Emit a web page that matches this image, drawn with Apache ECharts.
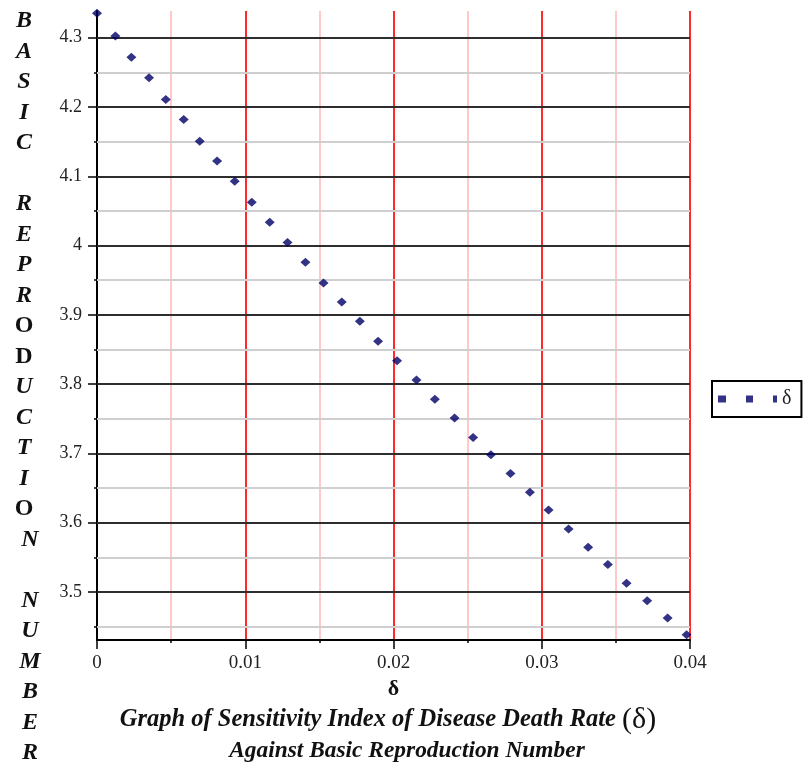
<!DOCTYPE html>
<html>
<head>
<meta charset="utf-8">
<script src="https://cdn.jsdelivr.net/npm/echarts@6/dist/echarts.min.js"></script>
<style>html,body{margin:0;padding:0;background:#fff;}#c{width:804px;height:768px;}</style>
</head>
<body>
<div id="c"></div>
<script>
// ---- data ----
const deltaValues = [0, 0.00124, 0.00232, 0.00351, 0.00464, 0.00585, 0.00693, 0.00810, 0.00929, 0.01044,
  0.01165, 0.01285, 0.01406, 0.01528, 0.01651, 0.01773, 0.01896, 0.02024, 0.02155, 0.02279,
  0.02412, 0.02537, 0.02657, 0.02789, 0.02920, 0.03046, 0.03181, 0.03313, 0.03446, 0.03572,
  0.03711, 0.03849, 0.03977];
const r0Values = [4.3353, 4.3025, 4.2717, 4.2422, 4.2110, 4.1821, 4.1507, 4.1222, 4.0929, 4.0626,
  4.0337, 4.0043, 3.9759, 3.9460, 3.9185, 3.8906, 3.8617, 3.8338, 3.8058, 3.7783,
  3.7509, 3.7230, 3.6980, 3.6710, 3.6439, 3.6182, 3.5910, 3.5645, 3.5395, 3.5124,
  3.4874, 3.4624, 3.4383];
const yMajorTicks = [3.5, 3.6, 3.7, 3.8, 3.9, 4, 4.1, 4.2, 4.3];
const yMinorTicks = [3.45, 3.55, 3.65, 3.75, 3.85, 3.95, 4.05, 4.15, 4.25];
const xMin = 0, xMax = 0.04, xInterval = 0.01;
const yMin = 3.4306, yMax = 4.3386;
const seriesName = 'δ';
const xAxisTitle = 'δ';
const yTitleLetters = ['B','A','S','I','C','','R','E','P','R','O','D','U','C','T','I','O','N','','N','U','M','B','E','R'];
const uprightLetters = {10:true, 11:true, 16:true};
const titleLine1 = 'Graph of Sensitivity Index of Disease Death Rate ';
const titleLine2 = 'Against Basic Reproduction Number';

const points = deltaValues.map((d, i) => [d, r0Values[i]]);

const serif = '"Liberation Serif", "DejaVu Serif", serif';

// vertical y-axis title letters
const letterGraphics = [];
yTitleLetters.forEach((ch, i) => {
  if (!ch) return;
  const shifted = i >= 17;
  letterGraphics.push({
    type: 'text',
    x: shifted ? 30 : 24,
    y: 21 + i * 30.5,
    style: {
      text: ch,
      font: (uprightLetters[i] ? 'bold ' : 'italic bold ') + '24px ' + serif,
      fill: '#111',
      textAlign: 'center',
      textVerticalAlign: 'middle'
    }
  });
});

const chart = echarts.init(document.getElementById('c'), null, {renderer: 'canvas'});
chart.setOption({
  animation: false,
  backgroundColor: '#fff',
  grid: {left: 97, right: 114, top: 11, bottom: 128, containLabel: false},
  legend: {
    show: true,
    left: 712, top: 381,
    orient: 'vertical',
    padding: [8, 10, 8, 6],
    borderColor: '#000', borderWidth: 2,
    backgroundColor: '#fff',
    itemWidth: 59, itemHeight: 7,
    textStyle: {fontFamily: serif, fontSize: 20, color: '#222'},
    data: [{name: seriesName, icon: 'path://M0,0H8V7H0Z M28,0H35V7H28Z M55,0H59V7H55Z'}]
  },
  xAxis: {
    type: 'value',
    min: xMin, max: xMax, interval: xInterval,
    name: xAxisTitle, nameLocation: 'middle', nameGap: 38,
    nameTextStyle: {fontFamily: serif, fontSize: 22, fontWeight: 'bold', color: '#111'},
    axisLine: {show: true, lineStyle: {color: '#000', width: 2}},
    axisTick: {show: true, length: 9, lineStyle: {color: '#000', width: 1.5}},
    minorTick: {show: true, splitNumber: 2, length: 3, lineStyle: {color: '#000', width: 1.5}},
    axisLabel: {fontFamily: serif, fontSize: 19, color: '#222', margin: 14},
    splitLine: {show: true, lineStyle: {color: '#ff2a2a', width: 2}},
    minorSplitLine: {show: true, lineStyle: {color: '#ffc9c9', width: 2}}
  },
  yAxis: [{
    type: 'value',
    min: yMin, max: yMax,
    axisLine: {show: true, lineStyle: {color: '#000', width: 2}},
    axisTick: {show: true, length: 9, customValues: yMajorTicks, lineStyle: {color: '#000', width: 1.5}},
    axisLabel: {fontFamily: serif, fontSize: 18, color: '#222', margin: 15, customValues: yMajorTicks},
    splitLine: {show: false}
  }, {
    type: 'value',
    position: 'left',
    min: yMin, max: yMax,
    axisLine: {show: false},
    axisTick: {show: true, length: 3, customValues: yMinorTicks, lineStyle: {color: '#000', width: 1.5}},
    axisLabel: {show: false, customValues: yMinorTicks},
    splitLine: {show: false}
  }],
  series: [{
    type: 'line',
    name: '__grid',
    data: [],
    z: 1,
    silent: true,
    markLine: {
      silent: true,
      symbol: ['none', 'none'],
      label: {show: false},
      animation: false,
      data: yMinorTicks.map(v => ({yAxis: v, lineStyle: {color: '#cfcfcf', width: 2, type: 'solid'}}))
        .concat(yMajorTicks.map(v => ({yAxis: v, lineStyle: {color: '#2e2e2e', width: 2, type: 'solid'}})))
    }
  }, {
    type: 'scatter',
    name: seriesName,
    data: points,
    z: 5,
    symbol: 'diamond',
    symbolSize: [10, 9],
    itemStyle: {color: '#000066'}
  }],
  graphic: letterGraphics.concat([
    {
      type: 'text',
      x: 388, y: 720,
      style: {
        text: '{a|' + titleLine1 + '}{b|(δ)}',
        textAlign: 'center', textVerticalAlign: 'middle',
        rich: {
          a: {font: 'italic bold 24.5px ' + serif, fill: '#111'},
          b: {font: '30px ' + serif, fill: '#111'}
        }
      }
    },
    {
      type: 'text',
      x: 407, y: 751,
      style: {
        text: titleLine2,
        font: 'italic bold 23.4px ' + serif,
        fill: '#111',
        textAlign: 'center', textVerticalAlign: 'middle'
      }
    }
  ])
});
</script>
</body>
</html>
